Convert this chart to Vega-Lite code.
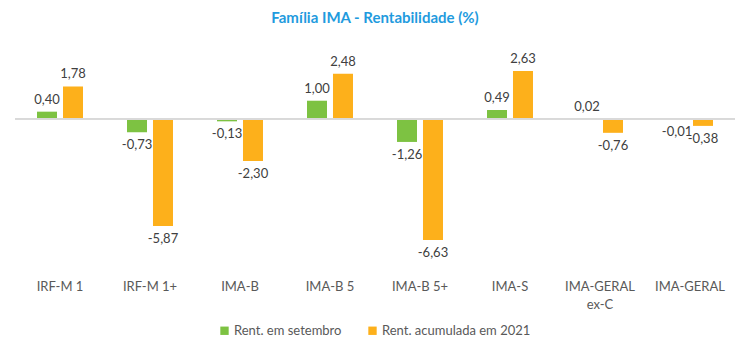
{
  "$schema": "https://vega.github.io/schema/vega-lite/v6.json",
  "width": 720,
  "height": 228,
  "autosize": "none",
  "padding": {"left": 15, "top": 46, "right": 15, "bottom": 81},
  "background": "white",
  "config": {
    "view": {"stroke": null},
    "font": "Lato",
    "locale": {"number": {"decimal": ",", "thousands": ".", "grouping": [3], "currency": ["R$", ""], "minus": "-"}}
  },
  "title": {
    "text": "Família IMA - Rentabilidade (%)",
    "color": "#1F9BDE",
    "fontSize": 15,
    "fontWeight": "bold",
    "font": "Lato",
    "anchor": "middle",
    "offset": 20
  },
  "data": {
    "values": [
      {"cat": "IRF-M 1", "serie": "Rent. em setembro", "v": 0.40},
      {"cat": "IRF-M 1", "serie": "Rent. acumulada em 2021", "v": 1.78},
      {"cat": "IRF-M 1+", "serie": "Rent. em setembro", "v": -0.73},
      {"cat": "IRF-M 1+", "serie": "Rent. acumulada em 2021", "v": -5.87},
      {"cat": "IMA-B", "serie": "Rent. em setembro", "v": -0.13},
      {"cat": "IMA-B", "serie": "Rent. acumulada em 2021", "v": -2.30},
      {"cat": "IMA-B 5", "serie": "Rent. em setembro", "v": 1.00},
      {"cat": "IMA-B 5", "serie": "Rent. acumulada em 2021", "v": 2.48},
      {"cat": "IMA-B 5+", "serie": "Rent. em setembro", "v": -1.26},
      {"cat": "IMA-B 5+", "serie": "Rent. acumulada em 2021", "v": -6.63},
      {"cat": "IMA-S", "serie": "Rent. em setembro", "v": 0.49},
      {"cat": "IMA-S", "serie": "Rent. acumulada em 2021", "v": 2.63},
      {"cat": "IMA-GERAL ex-C", "serie": "Rent. em setembro", "v": 0.02},
      {"cat": "IMA-GERAL ex-C", "serie": "Rent. acumulada em 2021", "v": -0.76},
      {"cat": "IMA-GERAL", "serie": "Rent. em setembro", "v": -0.01},
      {"cat": "IMA-GERAL", "serie": "Rent. acumulada em 2021", "v": -0.38}
    ]
  },
  "encoding": {
    "x": {
      "field": "cat", "type": "nominal", "sort": null, "title": null,
      "scale": {"paddingInner": 0.489, "paddingOuter": 0.2445},
      "axis": {
        "orient": "bottom", "domain": false, "ticks": false, "labelAngle": 0,
        "labelFontSize": 13, "labelColor": "#595959", "labelFont": "Lato", "labelPadding": 6,
        "labelLineHeight": 18,
        "labelExpr": "datum.value == 'IMA-GERAL ex-C' ? ['IMA-GERAL', 'ex-C'] : datum.value"
      }
    },
    "xOffset": {"field": "serie", "type": "nominal", "sort": ["Rent. em setembro", "Rent. acumulada em 2021"], "scale": {"paddingInner": 0.23}},
    "y": {
      "field": "v", "type": "quantitative", "title": null,
      "scale": {"domain": [-8.5, 4], "nice": false, "zero": true},
      "axis": null
    }
  },
  "layer": [
    {
      "mark": {"type": "bar", "width": 20},
      "encoding": {
        "color": {
          "field": "serie", "type": "nominal",
          "sort": ["Rent. em setembro", "Rent. acumulada em 2021"],
          "scale": {"domain": ["Rent. em setembro", "Rent. acumulada em 2021"], "range": ["#7DC242", "#FDB01B"]},
          "legend": {
            "title": null, "orient": "none", "direction": "horizontal",
            "legendX": 203, "legendY": 278,
            "symbolType": "square", "symbolSize": 70, "symbolStrokeWidth": 0,
            "labelFontSize": 13, "labelColor": "#595959", "labelFont": "Lato",
            "columnPadding": 24, "symbolOffset": 0, "labelOffset": 3
          }
        }
      }
    },
    {
      "mark": {"type": "rule", "color": "#D9D9D9", "strokeWidth": 1},
      "encoding": {"y": {"datum": 0}, "x": null, "xOffset": null}
    },
    {
      "transform": [{"filter": "datum.v >= 0"}],
      "mark": {"type": "text", "baseline": "bottom", "dy": -5, "fontSize": 13, "color": "#404040", "font": "Lato"},
      "encoding": {"text": {"field": "v", "type": "quantitative", "format": ".2f"}}
    },
    {
      "transform": [{"filter": "datum.v < 0"}],
      "mark": {"type": "text", "baseline": "top", "dy": 7, "fontSize": 13, "color": "#404040", "font": "Lato"},
      "encoding": {"text": {"field": "v", "type": "quantitative", "format": ".2f"}}
    }
  ]
}
